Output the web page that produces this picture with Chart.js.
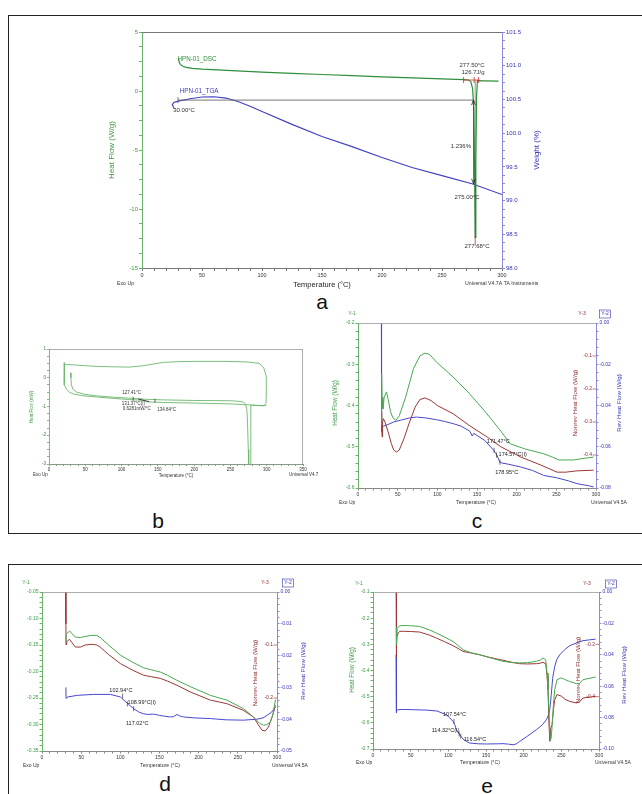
<!DOCTYPE html>
<html>
<head>
<meta charset="utf-8">
<script src="https://cdn.jsdelivr.net/npm/chart.js@4.4.1/dist/chart.umd.min.js"></script>
<style>
  body { margin: 0; background: #fff; width: 642px; height: 794px; overflow: hidden; position: relative;
         font-family: "Liberation Sans", Arial, sans-serif; }
  .box { position: absolute; border: 1.5px solid #222; }
  .lbl { position: absolute; font-size: 21px; color: #111; transform: translate(-50%, -50%); }
  canvas { position: absolute; }
</style>
</head>
<body>
<div class="box" style="left:8px;top:15px;width:660px;height:517px"></div>
<div class="box" style="left:8px;top:564px;width:660px;height:260px"></div>
<div class="lbl" style="left:322px;top:302px">a</div>
<div class="lbl" style="left:158px;top:521px">b</div>
<div class="lbl" style="left:477px;top:521px">c</div>
<div class="lbl" style="left:165px;top:784px">d</div>
<div class="lbl" style="left:487px;top:786px">e</div>
<script>
// ---- a: DSC / TGA of HPN-01 ----
const aDscTemp = [30.5, 31, 32, 34, 37, 42, 50, 75, 100, 125, 150, 175, 200, 225, 250, 268, 272, 274, 275.5, 276.5, 277.2, 277.68, 278.2, 278.8, 279.5, 285, 297];
const aDscHeat = [2.75, 2.45, 2.25, 2.1, 2.0, 1.92, 1.85, 1.72, 1.6, 1.5, 1.4, 1.3, 1.2, 1.11, 1.02, 0.96, 0.93, 0.8, 0.2, -1.5, -7, -12.4, -6, -0.5, 0.87, 0.86, 0.84];
const aTgaTemp = [26.9, 25.2, 26.5, 28.7, 32, 40, 50, 60, 70, 80, 90, 100, 125, 150, 175, 200, 225, 250, 275, 300];
const aTgaWeight = [100.36, 100.42, 100.455, 100.467, 100.48, 100.51, 100.535, 100.54, 100.52, 100.47, 100.40, 100.32, 100.13, 99.95, 99.80, 99.64, 99.49, 99.37, 99.25, 99.09];

// ---- b: heat / cool / heat cycle ----
const bTemp = [30, 30.2, 30.8, 33, 38, 50, 65.5, 90, 111.5, 135, 157.5, 200, 249.6, 262, 268, 271, 272.6, 273.6, 274.6, 275.2, 277.8, 278.1, 280, 290, 296, 299, 299.6, 299.4, 296, 290, 272.6, 240, 203.6, 180, 157.5, 145, 130, 111, 90, 65.5, 50, 33, 24, 21.5, 20.7, 20.8, 21.5, 24, 28, 33, 45, 65.5, 90, 111.5, 127, 131, 135, 157.5, 200, 249.6, 280, 296, 299.4];
const bHeat = [0.17, 0.0, -0.24, -0.4, -0.5, -0.58, -0.63, -0.68, -0.71, -0.75, -0.77, -0.79, -0.8, -0.82, -0.85, -0.93, -1.1, -1.6, -2.5, -3.1, -3.1, -0.95, -0.96, -0.97, -0.97, -0.9, -0.4, 0.05, 0.34, 0.5, 0.55, 0.57, 0.57, 0.56, 0.535, 0.48, 0.42, 0.37, 0.38, 0.395, 0.42, 0.45, 0.46, 0.48, 0.53, 0.2, -0.24, -0.4, -0.5, -0.56, -0.62, -0.67, -0.72, -0.76, -0.78, -0.8, -0.84, -0.86, -0.88, -0.91, -0.95, -0.97, -0.97];

// ---- c: MDSC ----
const cHfTemp = [29.6, 29.8, 30.3, 31.5, 33, 35.9, 38, 41, 44, 47.7, 52, 60, 70, 78, 84.4, 90, 99, 120, 140, 162.5, 180, 192, 210, 234, 245, 253, 262, 272, 285, 297];
const cHf = [-0.45, -0.323, -0.38, -0.408, -0.38, -0.367, -0.385, -0.415, -0.43, -0.436, -0.425, -0.38, -0.31, -0.28, -0.273, -0.276, -0.295, -0.331, -0.37, -0.42, -0.462, -0.493, -0.505, -0.517, -0.525, -0.532, -0.532, -0.532, -0.528, -0.525];
const cNrTemp = [29.6, 29.8, 30.3, 31, 32, 34, 38, 42, 45, 48.6, 52, 58, 65, 72, 78, 84.4, 92, 100, 120, 140, 162.5, 180, 205, 230, 251, 262, 276, 297];
const cNr = [-0.33, -0.27, -0.345, -0.3, -0.29, -0.3, -0.33, -0.365, -0.385, -0.391, -0.385, -0.35, -0.3, -0.255, -0.232, -0.227, -0.235, -0.25, -0.275, -0.31, -0.345, -0.375, -0.406, -0.43, -0.452, -0.452, -0.448, -0.446];
const cRvTemp = [29.5, 29.6, 29.8, 30.5, 32, 36, 45, 55, 65, 73.8, 85, 99, 110, 120, 130, 141, 144, 146, 150, 160, 171, 175, 178.9, 181.5, 190, 205, 220, 234, 250, 265, 276, 285, 292, 297];
const cRv = [0.0, -0.04, -0.05, -0.0496, -0.05, -0.0495, -0.048, -0.047, -0.046, -0.0456, -0.046, -0.0469, -0.0478, -0.0488, -0.05, -0.0525, -0.0548, -0.0535, -0.0545, -0.057, -0.0617, -0.064, -0.0675, -0.0679, -0.0685, -0.0698, -0.0715, -0.0739, -0.075, -0.0765, -0.0779, -0.0785, -0.079, -0.0795];

// ---- d: MDSC ----
const dHfTemp = [30.6, 30.8, 32, 35.3, 38, 42.5, 48.9, 55, 63.8, 70, 74.4, 85, 100, 115, 129.7, 140, 151, 160, 172.3, 190, 214.9, 236, 257, 270, 278, 283, 287, 291.5, 295, 298];
const dHf = [-0.145, -0.13, -0.128, -0.1236, -0.128, -0.135, -0.136, -0.134, -0.1317, -0.132, -0.136, -0.15, -0.169, -0.182, -0.193, -0.197, -0.201, -0.207, -0.2167, -0.229, -0.245, -0.254, -0.27, -0.286, -0.298, -0.3015, -0.3, -0.295, -0.28, -0.253];
const dNrTemp = [30.3, 30.5, 30.8, 32, 35, 38, 42.5, 48.9, 55, 63.8, 70, 74.4, 85, 100, 115, 129.7, 140, 151, 160, 172.3, 190, 214.9, 236, 257, 270, 276, 281, 285, 289, 294, 298];
const dNr = [0.0, -0.06, -0.1, -0.0935, -0.089, -0.095, -0.1038, -0.104, -0.1, -0.0987, -0.1, -0.104, -0.118, -0.135, -0.147, -0.157, -0.16, -0.163, -0.168, -0.176, -0.189, -0.204, -0.2107, -0.2232, -0.236, -0.25, -0.261, -0.262, -0.255, -0.235, -0.214];
const dRvTemp = [30.5, 30.7, 33, 45, 65.9, 87.2, 100, 110, 117, 124, 129.7, 135, 142.5, 150, 155, 163.8, 168, 172.3, 176, 180.8, 195, 214.9, 235, 257.4, 274.5, 282, 287.2, 293, 297.9];
const dRv = [-0.03, -0.0335, -0.033, -0.0325, -0.0322, -0.0322, -0.033, -0.0352, -0.0367, -0.0378, -0.0383, -0.0385, -0.0384, -0.0388, -0.039, -0.0393, -0.0392, -0.0385, -0.039, -0.0393, -0.0396, -0.0398, -0.0402, -0.0403, -0.04, -0.0396, -0.0388, -0.0378, -0.0362];

// ---- e: MDSC ----
const eHfTemp = [31, 31.3, 32, 35.4, 40, 50, 62, 75, 84.1, 95, 106.2, 113, 119.5, 130, 141.6, 155, 172.6, 185, 194.7, 205, 216.9, 222, 225.7, 229.3, 231, 232.3, 234, 235.5, 236.5, 237.7, 239.5, 241.2, 244.3, 250, 255, 261.1, 270, 274, 278.8, 287, 295.6];
const eHf = [-0.235, -0.3, -0.24, -0.229, -0.228, -0.229, -0.2315, -0.245, -0.257, -0.272, -0.289, -0.305, -0.3205, -0.332, -0.34, -0.351, -0.365, -0.37, -0.371, -0.37, -0.365, -0.36, -0.352, -0.359, -0.41, -0.473, -0.58, -0.665, -0.66, -0.614, -0.53, -0.473, -0.435, -0.428, -0.435, -0.442, -0.45, -0.45, -0.435, -0.43, -0.425];
const eNrTemp = [30.8, 31, 31.3, 32, 33, 35.4, 40, 50, 62, 75, 84.1, 95, 106.2, 113, 119.5, 130, 141.6, 155, 172.6, 185, 194.7, 205, 216.9, 222, 225.7, 229.3, 231, 232.3, 233.5, 234.8, 236, 237.7, 239.5, 241.2, 244.3, 250, 255, 261.1, 270, 274, 278.8, 287, 295.6];
const eNr = [0.0, -0.25, -0.19, -0.165, -0.157, -0.1505, -0.15, -0.151, -0.153, -0.165, -0.176, -0.19, -0.205, -0.216, -0.227, -0.233, -0.24, -0.25, -0.261, -0.269, -0.274, -0.275, -0.274, -0.272, -0.269, -0.274, -0.32, -0.373, -0.5, -0.571, -0.52, -0.507, -0.45, -0.412, -0.392, -0.398, -0.41, -0.418, -0.424, -0.42, -0.405, -0.402, -0.399];
const eRvTemp = [30.7, 30.9, 31.3, 33, 40, 55, 70, 85, 97.4, 102, 106.2, 108.5, 110.7, 114.3, 116.5, 119.5, 124, 128.4, 140, 150.5, 165, 172.6, 180, 185.9, 190, 194.7, 205, 216.9, 225, 230.2, 232.5, 234.6, 236.5, 238.5, 241.2, 244, 247.8, 255, 261.1, 270, 278.8, 287, 295.6];
const eRv = [-0.04, -0.077, -0.0755, -0.075, -0.0748, -0.075, -0.0752, -0.0758, -0.0782, -0.0802, -0.0824, -0.0845, -0.0877, -0.0905, -0.0918, -0.0937, -0.0952, -0.0962, -0.0967, -0.0968, -0.0967, -0.0966, -0.0969, -0.0973, -0.0968, -0.0952, -0.0918, -0.0877, -0.0845, -0.0813, -0.079, -0.075, -0.066, -0.055, -0.0474, -0.043, -0.04, -0.0365, -0.0342, -0.0325, -0.031, -0.0305, -0.030];

const FONT = '"Liberation Sans", Arial, sans-serif';
Chart.defaults.font.family = FONT;

const GREEN = '#4aa852', RED = '#9a3636', BLUE = '#4848cc';
const GTXT = '#3a9a42', RTXT = '#8e2a2a', BTXT = '#3333b0', GRAY = '#777';

function pts(xs, ys) { return xs.map((x, i) => ({ x: x, y: ys[i] })); }

function curve(xs, ys, color, yID, w) {
  return { data: pts(xs, ys), borderColor: color, borderWidth: w || 1, showLine: true,
           pointRadius: 0, fill: false, yAxisID: yID, tension: 0 };
}

function tickList(min, max, step) {
  const n = Math.round((max - min) / step), out = [];
  for (let i = 0; i <= n; i++) out.push(+(min + i * step).toFixed(6));
  return out;
}

// linear axis with minor tick marks; only multiples of "major" get a label
function axis(o) {
  const list = tickList(o.min, o.max, o.minor);
  const cfg = {
    type: 'linear', position: o.pos, min: o.min, max: o.max,
    afterBuildTicks: s => { s.ticks = list.map(v => ({ value: v })); },
    ticks: {
      autoSkip: false, maxRotation: 0, minRotation: 0, padding: o.pad == null ? 1 : o.pad,
      color: o.text, font: { size: o.size },
      callback: v => Math.abs(v / o.major - Math.round(v / o.major)) < 1e-6 ? o.fmt(v) : ''
    },
    grid: { display: true, drawOnChartArea: false, drawTicks: true, tickLength: o.tl || 3, color: o.line },
    border: { display: true, color: o.line, width: 1 }
  };
  if (o.fit != null) cfg.afterFit = s => { if (s.isHorizontal()) s.height = o.fit; else s.width = o.fit; };
  return cfg;
}

function text(ctx, s, x, y, o) {
  ctx.save();
  ctx.font = o.size + 'px ' + FONT;
  ctx.fillStyle = o.color || '#333';
  ctx.textAlign = o.align || 'left';
  ctx.textBaseline = 'middle';
  if (o.rot) { ctx.translate(x, y); ctx.rotate(o.rot); ctx.fillText(s, 0, 0); }
  else ctx.fillText(s, x, y);
  ctx.restore();
}

function seg(ctx, x1, y1, x2, y2, color, w) {
  ctx.save();
  ctx.strokeStyle = color; ctx.lineWidth = w || 1;
  ctx.beginPath(); ctx.moveTo(x1, y1); ctx.lineTo(x2, y2); ctx.stroke();
  ctx.restore();
}

// box = plot area in page pixels, pad = room around it on the canvas
function panel(box, pad, datasets, scales, extras) {
  const c = document.createElement('canvas');
  const w = box.R - box.L + pad.l + pad.r, h = box.B - box.T + pad.t + pad.b;
  c.width = w; c.height = h;
  c.style.left = (box.L - pad.l) + 'px'; c.style.top = (box.T - pad.t) + 'px';
  c.style.width = w + 'px'; c.style.height = h + 'px';
  document.body.appendChild(c);
  return new Chart(c, {
    type: 'scatter',
    data: { datasets: datasets },
    options: {
      responsive: false, animation: false, devicePixelRatio: 1,
      layout: { padding: { top: pad.t, right: pad.padR || 0, left: 0, bottom: 0 } },
      plugins: { legend: { display: false }, tooltip: { enabled: false } },
      scales: scales
    },
    plugins: [{
      id: 'extras',
      afterDraw(chart) {
        const ca = chart.chartArea;
        const X = px => px - box.L + ca.left, Y = py => py - box.T + ca.top;
        extras(chart, chart.ctx, X, Y);
      }
    }]
  });
}

const f0 = v => String(Math.round(v));
const f1 = v => v.toFixed(1);
const f2 = v => v.toFixed(2);

// ---------- panel a ----------
panel({ L: 142, T: 32, R: 502, B: 268 }, { l: 40, t: 10, r: 46, b: 24 },
  [curve(aDscTemp, aDscHeat, '#2f8f3a', 'y1', 1.2), curve(aTgaTemp, aTgaWeight, '#4040c0', 'y2', 1.1)],
  {
    x: axis({ pos: 'bottom', min: 0, max: 300, minor: 10, major: 50, fmt: f0, text: '#333', line: GRAY, size: 5.5, fit: 24 }),
    y1: axis({ pos: 'left', min: -15, max: 5, minor: 1.25, major: 5, fmt: f0, text: GTXT, line: '#6ab46a', size: 6, fit: 40 }),
    y2: axis({ pos: 'right', min: 98, max: 101.5, minor: 0.125, major: 0.5, fmt: f1, text: BTXT, line: '#8a8ad8', size: 6, fit: 46 })
  },
  (chart, ctx, X, Y) => {
    const ca = chart.chartArea, sx = v => chart.scales.x.getPixelForValue(v);
    const h = v => chart.scales.y1.getPixelForValue(v), wt = v => chart.scales.y2.getPixelForValue(v);
    seg(ctx, ca.left, ca.top + 0.5, ca.right, ca.top + 0.5, GRAY);
    text(ctx, 'Heat Flow (W/g)', X(112), Y(150), { size: 8, color: GTXT, align: 'center', rot: -Math.PI / 2 });
    text(ctx, 'Weight (%)', X(537), Y(150), { size: 8, color: BTXT, align: 'center', rot: -Math.PI / 2 });
    text(ctx, 'Temperature (\u00b0C)', X(322), Y(285), { size: 7.5, color: '#222', align: 'center' });
    text(ctx, 'Exo Up', X(117), Y(284), { size: 5.2 });
    text(ctx, 'Universal V4.7A TA Instruments', X(465), Y(284), { size: 5.2 });
    text(ctx, 'HPN-01_DSC', sx(29.5), h(2.65), { size: 6.3, color: '#2f8f3a' });
    text(ctx, 'HPN-01_TGA', sx(31.4), h(0.0), { size: 6.3, color: '#4040c0' });
    // step analysis
    const yTop = wt(100.49), yBot = wt(99.25), xs = sx(276.3);
    seg(ctx, sx(30), yTop, xs, yTop, '#555', 0.8);
    seg(ctx, sx(30), yTop - 3, sx(30), yTop + 3, '#555', 0.8);
    seg(ctx, xs, yTop, xs, yBot, '#444', 0.8);
    seg(ctx, xs - 2, yTop + 5, xs, yTop, '#222', 0.8); seg(ctx, xs + 2, yTop + 5, xs, yTop, '#222', 0.8);
    seg(ctx, xs - 2, yBot - 5, xs, yBot, '#222', 0.8); seg(ctx, xs + 2, yBot - 5, xs, yBot, '#222', 0.8);
    text(ctx, '30.00\u00b0C', sx(26), h(-1.6), { size: 6 });
    text(ctx, '1.236%', X(471), Y(146), { size: 6, align: 'right' });
    text(ctx, '275.00\u00b0C', X(467), Y(197), { size: 6, align: 'center' });
    // peak integration
    const yb = h(0.93);
    seg(ctx, sx(268), yb, sx(281), yb, '#c83030', 0.8);
    [268, 276.8, 280.5].forEach(t => seg(ctx, sx(t), yb - 3, sx(t), yb + 3, '#c83030', 0.8));
    seg(ctx, sx(277.68), h(0.9), sx(277.68), h(-12.4), '#555', 0.6);
    seg(ctx, sx(277.68), h(-12.3), sx(277.68), h(-13.1), '#c83030', 0.8);
    text(ctx, '277.50\u00b0C', X(472), Y(65), { size: 6, align: 'center' });
    text(ctx, '126.7J/g', X(473), Y(72.5), { size: 6, align: 'center' });
    text(ctx, '277.68\u00b0C', X(477), Y(246), { size: 6, align: 'center' });
  });

// ---------- panel b ----------
panel({ L: 49, T: 349, R: 303, B: 464 }, { l: 20, t: 6, r: 15, b: 16, padR: 15 },
  [curve(bTemp, bHeat, '#6db56d', 'y1', 0.9)],
  {
    x: axis({ pos: 'bottom', min: 0, max: 350, minor: 10, major: 50, fmt: f0, text: '#333', line: '#8a9a8a', size: 4.5, fit: 16, tl: 2 }),
    y1: axis({ pos: 'left', min: -3, max: 1, minor: 0.25, major: 1, fmt: f0, text: '#3a7a3a', line: '#7cbc7c', size: 4.5, fit: 20, tl: 2 })
  },
  (chart, ctx, X, Y) => {
    const ca = chart.chartArea, sx = v => chart.scales.x.getPixelForValue(v), h = v => chart.scales.y1.getPixelForValue(v);
    seg(ctx, ca.left, ca.top + 0.5, ca.right, ca.top + 0.5, '#999', 0.8);
    seg(ctx, ca.right - 0.5, ca.top, ca.right - 0.5, ca.bottom, '#999', 0.8);
    text(ctx, 'Heat Flow (mW)', X(32), Y(407), { size: 4.5, color: GTXT, align: 'center', rot: -Math.PI / 2 });
    text(ctx, 'Temperature (\u00b0C)', X(176), Y(476), { size: 4.5, align: 'center' });
    text(ctx, 'Exo Up', X(33), Y(475), { size: 4.5 });
    text(ctx, 'Universal V4.7A TA Instruments', X(289), Y(475), { size: 4.5 });
    seg(ctx, sx(116), h(-0.66), sx(116), h(-0.8), '#333', 0.7);
    seg(ctx, sx(146), h(-0.73), sx(146), h(-0.87), '#333', 0.7);
    seg(ctx, sx(123), h(-0.74), sx(138), h(-0.83), '#333', 0.9);
    text(ctx, '127.41\u00b0C', sx(113.8), h(-0.51), { size: 4.5, align: 'center' });
    text(ctx, '131.37\u00b0C(I)', sx(116.3), h(-0.91), { size: 4.5, align: 'center' });
    text(ctx, '0.6281mW/\u00b0C', sx(121), h(-1.08), { size: 4.5, align: 'center' });
    text(ctx, '134.84\u00b0C', sx(162), h(-1.11), { size: 4.5, align: 'center' });
  });

// shared decorations of the three MDSC panels
function mdscFrame(chart, ctx, X, Y, o) {
  const ca = chart.chartArea;
  seg(ctx, ca.left, ca.top + 0.5, ca.right, ca.top + 0.5, '#999', 0.8);
  text(ctx, 'Y-1', X(o.y1x), Y(o.ty), { size: 5, color: GTXT, align: 'center' });
  text(ctx, 'Y-3', X(o.y3x), Y(o.ty), { size: 5, color: RTXT, align: 'center' });
  text(ctx, 'Y-2', X(o.y2x), Y(o.ty), { size: 5, color: BTXT, align: 'center' });
  ctx.save(); ctx.strokeStyle = BTXT; ctx.lineWidth = 0.6;
  ctx.strokeRect(X(o.y2x) - 5.5, Y(o.ty) - 4, 11, 8); ctx.restore();
  if (o.hf) text(ctx, 'Heat Flow (W/g)', X(o.hf[0]), Y(o.hf[1]), { size: 6.3, color: GTXT, align: 'center', rot: -Math.PI / 2 });
  text(ctx, 'Nonrev Heat Flow (W/g)', X(o.nr[0]), Y(o.nr[1]), { size: 6.2, color: RTXT, align: 'center', rot: -Math.PI / 2 });
  text(ctx, 'Rev Heat Flow (W/g)', X(o.rv[0]), Y(o.rv[1]), { size: 6.2, color: BTXT, align: 'center', rot: -Math.PI / 2 });
  o.redTicks.forEach(v => {
    const y = chart.scales.y3.getPixelForValue(v);
    text(ctx, o.redFmt(v), ca.right - 4, y, { size: 5, color: RTXT, align: 'right' });
    seg(ctx, ca.right - 3.5, y, ca.right, y, RTXT, 0.6);
  });
  text(ctx, 'Exo Up', X(o.exo[0]), Y(o.exo[1]), { size: 5 });
  text(ctx, 'Temperature (\u00b0C)', X(o.temp[0]), Y(o.temp[1]), { size: 5.2, align: 'center' });
  text(ctx, 'Universal V4.5A', X(o.uni[0]), Y(o.uni[1]), { size: 5 });
}

function mdscScales(o) {
  return {
    x: axis({ pos: 'bottom', min: 0, max: 300, minor: 10, major: 50, fmt: f0, text: '#333', line: '#8a8a8a', size: 5, fit: 20, tl: 2.5 }),
    y1: axis({ pos: 'left', min: o.g[0], max: o.g[1], minor: o.g[2], major: o.g[3], fmt: o.g[4], text: GTXT, line: '#6ab46a', size: 5, fit: o.fl, tl: 2.5 }),
    y2: axis({ pos: 'right', min: o.b[0], max: o.b[1], minor: o.b[2], major: o.b[3], fmt: f2, text: BTXT, line: '#8a8ad8', size: 5, fit: o.fr, tl: 2.5 }),
    y3: { type: 'linear', display: false, position: 'right', min: o.r[0], max: o.r[1] }
  };
}

function annot(chart, ctx, list, yID) {
  const sx = v => chart.scales.x.getPixelForValue(v), sy = v => chart.scales[yID].getPixelForValue(v);
  list.forEach(a => text(ctx, a[0], sx(a[1]), sy(a[2]), { size: 5.5, color: '#222' }));
}
function marks(chart, ctx, list, yID) {
  const sx = v => chart.scales.x.getPixelForValue(v), sy = v => chart.scales[yID].getPixelForValue(v);
  list.forEach(m => seg(ctx, sx(m[0]), sy(m[1]) - 2.5, sx(m[0]), sy(m[1]) + 2.5, '#333', 0.7));
}

// ---------- panel c ----------
panel({ L: 358, T: 323, R: 596, B: 488 }, { l: 30, t: 14, r: 46, b: 20 },
  [curve(cHfTemp, cHf, GREEN, 'y1'), curve(cNrTemp, cNr, RED, 'y3'), curve(cRvTemp, cRv, BLUE, 'y2')],
  mdscScales({ g: [-0.6, -0.2, 0.02, 0.1, f1], b: [-0.08, 0, 0.004, 0.02], r: [-0.5, 0], fl: 30, fr: 46 }),
  (chart, ctx, X, Y) => {
    mdscFrame(chart, ctx, X, Y, { ty: 314, y1x: 352, y3x: 582, y2x: 605, hf: [335, 403], nr: [575, 403], rv: [619, 403],
      redTicks: [-0.1, -0.2, -0.3, -0.4], redFmt: f1, exo: [339, 503], temp: [476, 503], uni: [591, 503] });
    marks(chart, ctx, [[171.47, -0.0617], [174.57, -0.064], [178.95, -0.0675]], 'y2');
    annot(chart, ctx, [['171.47\u00b0C', 162.4, -0.0574], ['174.57\u00b0C(I)', 177.2, -0.0639], ['178.95\u00b0C', 173, -0.0725]], 'y2');
  });

// ---------- panel d ----------
panel({ L: 42, T: 592, R: 277, B: 751 }, { l: 28, t: 14, r: 36, b: 20 },
  [curve(dHfTemp, dHf, GREEN, 'y1'), curve(dNrTemp, dNr, RED, 'y3'), curve(dRvTemp, dRv, BLUE, 'y2')],
  mdscScales({ g: [-0.35, -0.05, 0.01, 0.05, f2], b: [-0.05, 0, 0.002, 0.01], r: [-0.3, 0], fl: 28, fr: 36 }),
  (chart, ctx, X, Y) => {
    mdscFrame(chart, ctx, X, Y, { ty: 583, y1x: 26, y3x: 265, y2x: 288, nr: [255, 673], rv: [303, 671],
      redTicks: [-0.1, -0.2], redFmt: f1, exo: [23, 766], temp: [160, 766], uni: [272, 766] });
    marks(chart, ctx, [[102.94, -0.0327], [108.99, -0.0352], [117.02, -0.0367]], 'y2');
    annot(chart, ctx, [['102.94\u00b0C', 86, -0.0311], ['108.99\u00b0C(I)', 109.3, -0.0346], ['117.02\u00b0C', 107.2, -0.0412]], 'y2');
  });

// ---------- panel e ----------
panel({ L: 373, T: 592, R: 599, B: 749 }, { l: 28, t: 14, r: 43, b: 20 },
  [curve(eHfTemp, eHf, GREEN, 'y1'), curve(eNrTemp, eNr, RED, 'y3'), curve(eRvTemp, eRv, BLUE, 'y2')],
  mdscScales({ g: [-0.7, -0.1, 0.02, 0.1, f1], b: [-0.1, 0, 0.004, 0.02], r: [-0.6, 0], fl: 28, fr: 43 }),
  (chart, ctx, X, Y) => {
    mdscFrame(chart, ctx, X, Y, { ty: 584, y1x: 359, y3x: 587, y2x: 611, hf: [352, 670], nr: [578, 670], rv: [624, 675],
      redTicks: [-0.2, -0.4], redFmt: f1, exo: [356, 763], temp: [480, 763], uni: [595, 763] });
    marks(chart, ctx, [[107.54, -0.0824], [114.32, -0.0905], [116.54, -0.0918]], 'y2');
    annot(chart, ctx, [['107.54\u00b0C', 93, -0.0782], ['114.32\u00b0C(I)', 77.9, -0.0882], ['116.54\u00b0C', 120.4, -0.0937]], 'y2');
  });
</script>
</body>
</html>
